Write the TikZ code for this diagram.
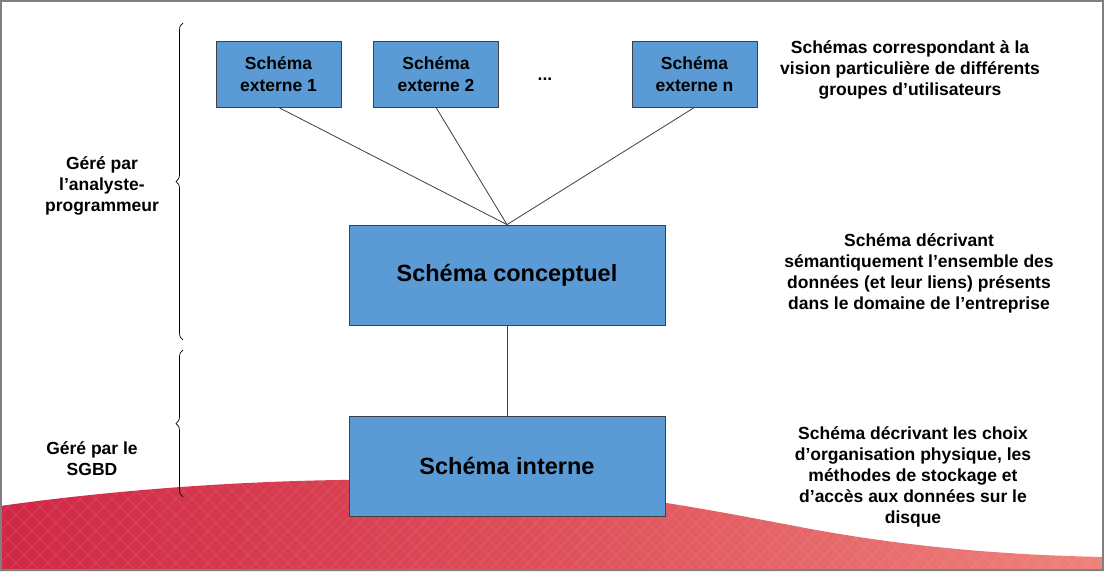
\documentclass[tikz,border=0pt]{standalone}
\usepackage{fontspec}
\setmainfont{Liberation Sans}
\usetikzlibrary{decorations.pathreplacing}
\definecolor{boxblue}{RGB}{91,155,213}
\definecolor{boxline}{RGB}{64,64,64}
\definecolor{wavered}{RGB}{208,40,70}
\definecolor{wavemid}{RGB}{222,80,90}
\definecolor{wavepink}{RGB}{238,130,122}
\definecolor{framegray}{RGB}{128,128,128}
\begin{document}
\begin{tikzpicture}[x=1pt,y=-1pt,
	schema/.style={draw=boxline,line width=0.8,fill=boxblue,inner sep=0pt,align=center,font=\bfseries\fontsize{17.5}{22}\selectfont},
	bigschema/.style={schema,minimum width=316,minimum height=100,font=\bfseries\fontsize{23.5}{28}\selectfont},
	smallschema/.style={schema,minimum width=125,minimum height=66},
	remark/.style={align=center,font=\bfseries\fontsize{17.5}{21}\selectfont},
	link/.style={draw=boxline,line width=0.8},
	accolade/.style={draw=black,line width=0.7,decorate,decoration={brace,amplitude=7}}]
	\useasboundingbox (0,0) rectangle (1104,571);
	\fill[white] (0,0) rectangle (1104,571);
			\path[left color=wavered,right color=wavepink,middle color=wavemid]
				(0,506) .. controls (150,485) and (300,478) .. (420,480)
				.. controls (580,484) and (700,508) .. (800,527)
				.. controls (900,546) and (1000,555) .. (1104,557)
				-- (1104,571) -- (0,571) -- cycle;
			\begin{scope}
				\clip (0,506) .. controls (150,485) and (300,478) .. (420,480)
					.. controls (580,484) and (700,508) .. (800,527)
					.. controls (900,546) and (1000,555) .. (1104,557)
					-- (1104,571) -- (0,571) -- cycle;
				\foreach \i in {-120,-104,...,1240}{
					\draw[white,opacity=0.1,line width=0.7] (\i,571) -- ++(100,-100);
					\draw[white,opacity=0.1,line width=0.7] (\i,571) -- ++(-100,-100);
				}
			\end{scope}
								\node[smallschema] (ext1) at (278.5,74){Schéma\\externe 1};
								\node[smallschema] (ext2) at (436,74){Schéma\\externe 2};
								\node[smallschema] (extn) at (694.5,74){Schéma\\externe n};
								\node[remark] (dots) at (545,79){...};
								\node[bigschema] (concept) at (507,275){Schéma conceptuel};
								\node[bigschema] (interne) at (507,466){Schéma interne};
								\draw[link] (ext1.south) -- (concept.north);
								\draw[link] (ext2.south) -- (concept.north);
								\draw[link] (extn.south) -- (concept.north);
								\draw[link] (concept.south) -- (interne.north);
								\node[remark] (noteext) at (910,70){Schémas correspondant à la\\vision particulière de différents\\groupes d’utilisateurs};
								\node[remark] (noteconcept) at (919,273){Schéma décrivant\\sémantiquement l’ensemble des\\données (et leur liens) présents\\dans le domaine de l’entreprise};
								\node[remark] (noteinterne) at (913,477){Schéma décrivant les choix\\d’organisation physique, les\\méthodes de stockage et\\d’accès aux données sur le\\disque};
								\node[remark] (analyste) at (102,186){Géré par\\l’analyste-\\programmeur};
								\node[remark] (sgbd) at (92,459){Géré par le\\SGBD};
								\coordinate (haut1) at (183,23);
								\coordinate (bas1) at (183,340);
								\coordinate (haut2) at (183,350);
								\coordinate (bas2) at (183,497);
								\draw[accolade] (bas1) -- (haut1);
								\draw[accolade] (bas2) -- (haut2);
	\draw[framegray,line width=2] (1,1) rectangle (1103,570);
\end{tikzpicture}
\end{document}
